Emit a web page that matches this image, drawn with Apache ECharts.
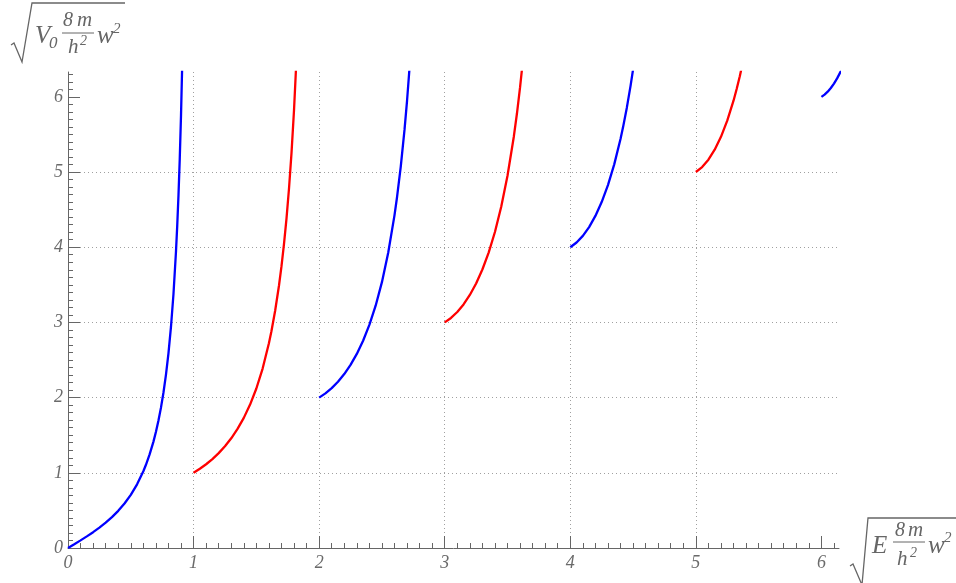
<!DOCTYPE html>
<html>
<head>
<meta charset="utf-8">
<script src="https://cdn.jsdelivr.net/npm/echarts@6/dist/echarts.min.js"></script>
<style>html,body{margin:0;padding:0;background:#fff}#c{width:956px;height:583px}</style>
</head>
<body>
<div id="c"></div>
<script>
// Bound-state curves (x = sqrt(E 8m/h^2 w^2), y = sqrt(V0 8m/h^2 w^2))
const level0 = [[0,0],[0.05,0.0502],[0.1,0.1012],[0.15,0.1543],[0.2,0.2103],[0.25,0.2706],[0.3,0.3367],[0.35,0.4105],[0.4,0.4944],[0.45,0.5918],[0.5,0.7071],[0.55,0.8469],[0.6,1.0208],[0.62,1.1030],[0.65,1.2440],[0.68,1.4115],[0.7,1.5419],[0.72,1.6910],[0.74,1.8633],[0.76,2.0645],[0.78,2.3027],[0.8,2.5889],[0.82,2.9392],[0.84,3.3777],[0.86,3.9424],[0.87,4.2902],[0.88,4.6963],[0.89,5.1766],[0.9,5.7532],[0.91,6.4585]];
const level1 = [[1,1],[1.05,1.0532],[1.1,1.1137],[1.15,1.1827],[1.2,1.2618],[1.25,1.3530],[1.3,1.4590],[1.35,1.5833],[1.4,1.7305],[1.45,1.9069],[1.5,2.1213],[1.55,2.3866],[1.6,2.7221],[1.62,2.8821],[1.65,3.1579],[1.68,3.4873],[1.7,3.7446],[1.72,4.0397],[1.74,4.3813],[1.76,4.7810],[1.78,5.2548],[1.8,5.8249],[1.82,6.5235]];
const level2 = [[2,2],[2.05,2.0563],[2.1,2.1262],[2.15,2.2111],[2.2,2.3132],[2.25,2.4354],[2.3,2.5813],[2.35,2.7561],[2.4,2.9666],[2.45,3.2220],[2.5,3.5355],[2.55,3.9264],[2.6,4.4234],[2.62,4.6613],[2.65,5.0718],[2.68,5.5630],[2.7,5.9473],[2.72,6.3883]];
const level3 = [[3,3],[3.05,3.0594],[3.1,3.1386],[3.15,3.2395],[3.2,3.3647],[3.25,3.5178],[3.3,3.7037],[3.35,3.9290],[3.4,4.2027],[3.45,4.5371],[3.5,4.9497],[3.55,5.4662],[3.575,5.7746],[3.6,6.1247],[3.62,6.4403]];
const level4 = [[4,4],[4.05,4.0625],[4.1,4.1511],[4.15,4.2679],[4.2,4.4161],[4.25,4.6002],[4.3,4.8260],[4.35,5.1018],[4.4,5.4387],[4.42,5.5938],[4.45,5.8522],[4.48,6.1457],[4.5,6.3640]];
const level5 = [[5,5],[5.05,5.0656],[5.1,5.1636],[5.15,5.2963],[5.2,5.4676],[5.25,5.6826],[5.3,5.9483],[5.325,6.1032],[5.35,6.2746],[5.37,6.4254]];
const level6 = [[6,6],[6.025,6.0296],[6.05,6.0687],[6.075,6.1174],[6.1,6.1760],[6.125,6.2450],[6.15,6.3248],[6.175,6.4159]];

const levels = [level0, level1, level2, level3, level4, level5, level6];
const levelColors = ['#0000ff', '#ff0000'];
const majorTicks = [0, 1, 2, 3, 4, 5, 6];
const xMax = 6.14, yMax = 6.33;

const minorTicks = (max) => {
  const out = [];
  for (let i = 1; i * 0.1 <= max + 1e-9; i++) { if (i % 10 !== 0) out.push(+(i * 0.1).toFixed(1)); }
  return out;
};

const AX = '#666666', LBL = '#6a6a6a';
const labelFont = { fontFamily: 'Liberation Serif', fontStyle: 'italic', fontSize: 18, color: LBL };

function mainAxis(max, isX) {
  return {
    type: 'value', min: 0, max: max, interval: 1,
    position: isX ? 'bottom' : 'left',
    axisLine: { show: true, lineStyle: { color: AX, width: 1 } },
    axisTick: { show: true, inside: true, length: 12, customValues: majorTicks, lineStyle: { color: AX, width: 1 } },
    axisLabel: Object.assign({ show: true, margin: isX ? 6 : 5, customValues: majorTicks,
      formatter: v => (Math.abs(v - Math.round(v)) < 1e-6 ? String(Math.round(v)) : '') }, labelFont),
    splitLine: { show: true, showMinLine: false, showMaxLine: false, lineStyle: { color: '#a0a0a0', width: 1, type: [1, 3] } },
    minorTick: { show: false }
  };
}
function minorAxis(max, isX) {
  return {
    type: 'value', min: 0, max: max, interval: 0.1,
    position: isX ? 'bottom' : 'left', offset: 0,
    axisLine: { show: false },
    axisTick: { show: true, inside: true, length: 5, customValues: minorTicks(max), lineStyle: { color: AX, width: 1 } },
    axisLabel: { show: false },
    splitLine: { show: false }
  };
}

// math-label helpers (real text + drawn radical/fraction bar)
function txt(s, x, baseline, size) {
  return { type: 'text', silent: true, style: {
    text: s, x: x, y: baseline - 0.34 * size, fill: '#666', font: 'italic ' + size + 'px "Liberation Serif"',
    textAlign: 'left', verticalAlign: 'middle' } };
}
function poly(points) {
  return { type: 'polyline', silent: true, shape: { points: points }, style: { stroke: '#666', lineWidth: 1.3, fill: null } };
}
function bar(x1, x2, y) {
  return { type: 'line', silent: true, shape: { x1: x1, y1: y, x2: x2, y2: y }, style: { stroke: '#666', lineWidth: 1 } };
}

const graphics = [
  // y-axis name: sqrt(V0 8m/h^2 w^2)
  poly([[11, 45], [14, 43], [22, 62], [32, 3], [125, 3]]),
  txt('V', 35, 45, 25), txt('0', 49, 49, 17),
  txt('8', 63, 28, 20), txt('m', 77, 28, 21), bar(62, 94, 33),
  txt('h', 68, 55, 21), txt('2', 80, 46, 14),
  txt('w', 97, 45, 25), txt('2', 113, 34, 15),
  // x-axis name: sqrt(E 8m/h^2 w^2)
  poly([[850, 566], [853, 564], [862, 585], [868, 518], [956, 518]]),
  txt('E', 872, 555, 25),
  txt('8', 895, 538, 20), txt('m', 908, 538, 21), bar(893, 925, 542),
  txt('h', 897, 567, 21), txt('2', 910, 558, 14),
  txt('w', 928, 555, 25), txt('2', 944, 543, 15)
];

const chart = echarts.init(document.getElementById('c'), null, { renderer: 'canvas' });
chart.setOption({
  animation: false,
  backgroundColor: '#ffffff',
  grid: { left: 68, right: 117, top: 72, bottom: 35, containLabel: false },
  xAxis: [mainAxis(xMax, true), minorAxis(xMax, true)],
  yAxis: [mainAxis(yMax, false), minorAxis(yMax, false)],
  graphic: graphics,
  series: levels.map((d, i) => ({
    type: 'line', data: d, xAxisIndex: 0, yAxisIndex: 0,
    showSymbol: false, symbol: 'none', smooth: false, clip: true,
    lineStyle: { color: levelColors[i % 2], width: 2.3 },
    itemStyle: { color: levelColors[i % 2] },
    z: 5
  }))
});
</script>
</body>
</html>
